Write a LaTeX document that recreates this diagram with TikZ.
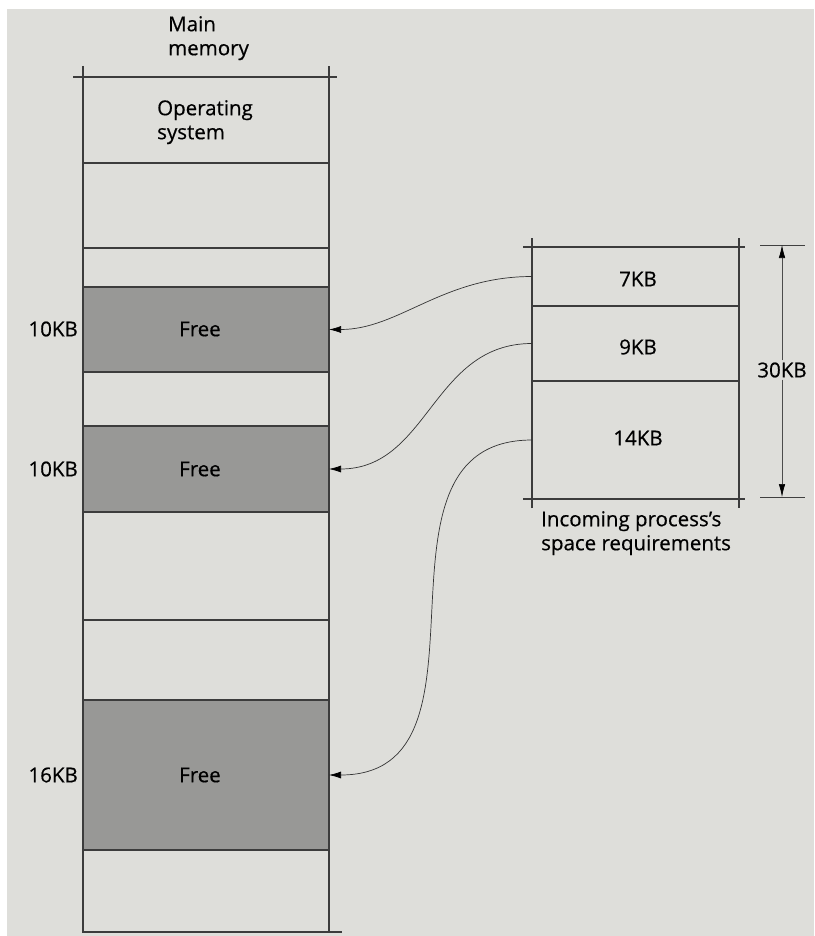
\documentclass[tikz,border=0pt]{standalone}
\usepackage{fontspec}
\setmainfont{Open Sans}
\newfontfamily\lblfont{Open Sans}[FakeBold=0.5]
\usetikzlibrary{arrows.meta}
\definecolor{paper}{RGB}{222,222,218}
\definecolor{freegray}{RGB}{152,152,150}
\definecolor{ink}{RGB}{60,60,60}
\tikzset{
  txt/.style={font=\lblfont\fontsize{20.5}{24}\selectfont, text=black, inner sep=0pt},
  seg/.style={draw=ink, line width=1.4pt, inner sep=0pt, outer sep=0pt},
  freeseg/.style={seg, fill=freegray},
  link/.style={line width=0.7pt, draw=black!80, -{Latex[length=12pt,width=7pt,color=black]}},
  dimline/.style={line width=0.6pt, draw=black!70, -{Latex[length=13pt,width=6.5pt,color=black]}},
  edge/.style={draw=ink, line width=1.4pt},
}
\begin{document}
\begin{tikzpicture}[x=1pt,y=-1pt]
\useasboundingbox (0,0) rectangle (814,936);
\fill[white] (0,0) rectangle (814,936);
\fill[paper] (7,9) rectangle (814,936);

% main memory segments
\node[seg, minimum width=246pt, minimum height=86pt] (os) at (206,120) {};
\node[seg, minimum width=246pt, minimum height=85pt] (m1) at (206,205.5) {};
\node[seg, minimum width=246pt, minimum height=39pt] (m2) at (206,267.5) {};
\node[freeseg, minimum width=246pt, minimum height=85pt] (f1) at (206,329.5) {};
\node[seg, minimum width=246pt, minimum height=54pt] (m3) at (206,399) {};
\node[freeseg, minimum width=246pt, minimum height=86pt] (f2) at (206,469) {};
\node[seg, minimum width=246pt, minimum height=108pt] (m4) at (206,566) {};
\node[seg, minimum width=246pt, minimum height=80pt] (m5) at (206,660) {};
\node[freeseg, minimum width=246pt, minimum height=150pt] (f3) at (206,775) {};
\node[seg, minimum width=246pt, minimum height=82pt] (m6) at (206,891) {};
% corner extensions
\draw[edge] (73,77) -- (os.north west) (os.north east) -- (337,77);
\draw[edge] (83,66) -- (os.north west) (os.north east) -- (329,66);
\draw[edge] (m6.south east) -- (342,932);

% main memory labels
\node[txt, anchor=north west, align=left] (mmlbl) at (168,16) {Main\\memory};
\node[txt, anchor=north west, align=left] (oslbl) at (157,100) {Operating\\system};
\node[txt] (fr1) at (200,329) {Free};
\node[txt] (fr2) at (200,469) {Free};
\node[txt] (fr3) at (200,775) {Free};
\node[txt, anchor=east] (k1) at (78,329) {10KB};
\node[txt, anchor=east] (k2) at (78,469) {10KB};
\node[txt, anchor=east] (k3) at (78,775) {16KB};

% incoming process
\node[seg, minimum width=207pt, minimum height=59pt] (p7) at (635.5,276.5) {};
\node[seg, minimum width=207pt, minimum height=75pt] (p9) at (635.5,343.5) {};
\node[seg, minimum width=207pt, minimum height=118pt] (p14) at (635.5,440) {};
\draw[edge] (523,247) -- (p7.north west) (p7.north east) -- (745,247);
\draw[edge] (532,238) -- (p7.north west) (p7.north east) -- (739,238);
\draw[edge] (523,499) -- (p14.south west) (p14.south east) -- (745,499);
\draw[edge] (532,508) -- (p14.south west) (p14.south east) -- (739,508);
\node[txt] (t7) at (638,279) {7KB};
\node[txt] (t9) at (638,347) {9KB};
\node[txt] (t14) at (638,438) {14KB};
\node[txt, anchor=north west, align=left] (inlbl) at (541,511) {Incoming process’s\\space requirements};

% 30KB dimension
\coordinate (dt) at (782,245);
\coordinate (db) at (782,497);
\draw[line width=0.8pt, draw=black!75] (760,245) -- (805,245) (760,497) -- (805,497);
\node[txt, fill=paper, inner sep=2pt] (t30) at (782,370) {30KB};
\draw[dimline] (t30.north) -- (dt);
\draw[dimline] (t30.south) -- (db);

% connectors
\draw[link] (p7.west) .. controls +(-90,0) and +(70,0) .. (f1.east);
\draw[link] (p9.west) .. controls +(-100,0) and +(100,0) .. (f2.east);
\draw[link] (p14.west) .. controls +(-180,0) and +(180,0) .. (f3.east);
\end{tikzpicture}
\end{document}
